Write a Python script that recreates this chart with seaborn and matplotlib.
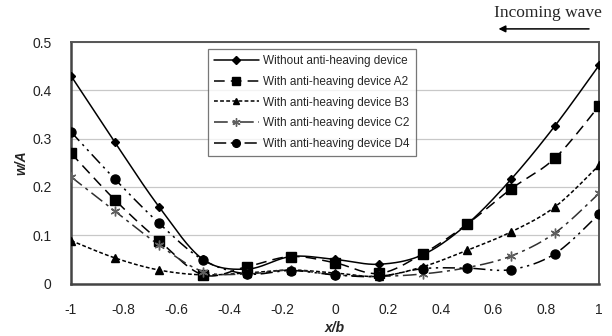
import numpy as np
import pandas as pd
import matplotlib
matplotlib.use('Agg')
import matplotlib.pyplot as plt
from matplotlib.lines import Line2D
import seaborn as sns

# 데이터: 측정 위치 x/b 와 각 조건의 w/A
x_pos = [-1, -5/6, -2/3, -1/2, -1/3, -1/6, 0, 1/6, 1/3, 1/2, 2/3, 5/6, 1]
without = [0.430, 0.292, 0.159, 0.050, 0.030, 0.056, 0.050, 0.040, 0.060, 0.123, 0.216, 0.327, 0.452]
dev_a2 = [0.270, 0.173, 0.089, 0.018, 0.035, 0.056, 0.043, 0.021, 0.062, 0.123, 0.196, 0.260, 0.368]
dev_b3 = [0.089, 0.053, 0.028, 0.018, 0.022, 0.028, 0.022, 0.015, 0.035, 0.069, 0.107, 0.159, 0.245]
dev_c2 = [0.221, 0.150, 0.080, 0.025, 0.020, 0.028, 0.018, 0.015, 0.020, 0.033, 0.057, 0.105, 0.187]
dev_d4 = [0.314, 0.216, 0.125, 0.049, 0.020, 0.027, 0.018, 0.015, 0.031, 0.032, 0.029, 0.062, 0.144]

labels = ['Without anti-heaving device', 'With anti-heaving device A2',
          'With anti-heaving device B3', 'With anti-heaving device C2',
          'With anti-heaving device D4']
x_ticks = [-1, -0.8, -0.6, -0.4, -0.2, 0, 0.2, 0.4, 0.6, 0.8, 1]
y_ticks = [0, 0.1, 0.2, 0.3, 0.4, 0.5]

series = [without, dev_a2, dev_b3, dev_c2, dev_d4]
styles = [
    dict(ls='-', marker='D', ms=4.5, color='black', mcolor='black'),
    dict(ls=(0, (7, 4)), marker='s', ms=6.5, color='black', mcolor='black'),
    dict(ls=(0, (2.5, 1.5)), marker='^', ms=5.5, color='black', mcolor='black'),
    dict(ls=(0, (9, 3, 2, 3)), marker=(6, 2, 0), ms=7, color='#303030', mcolor='#606060'),
    dict(ls=(0, (8, 3, 1.5, 3, 1.5, 3)), marker='o', ms=6.5, color='black', mcolor='black'),
]


def smooth(xs, ys, n=30):
    # 엑셀식 부드러운 선 (Catmull-Rom 베지어)
    p = np.column_stack([xs, ys]).astype(float)
    p = np.vstack([p[0], p, p[-1]])
    t = np.linspace(0, 1, n)[:, None]
    out = []
    for i in range(1, len(p) - 2):
        p0, p3 = p[i], p[i + 1]
        c1 = p0 + (p[i + 1] - p[i - 1]) / 6
        c2 = p3 - (p[i + 2] - p[i]) / 6
        seg = ((1 - t) ** 3) * p0 + 3 * ((1 - t) ** 2) * t * c1 + 3 * (1 - t) * t ** 2 * c2 + t ** 3 * p3
        out.append(seg if i == 1 else seg[1:])
    out = np.vstack(out)
    return out[:, 0], out[:, 1]


sns.set_style('white')
plt.rcParams['font.family'] = ['Liberation Sans', 'DejaVu Sans']
plt.rcParams['axes.unicode_minus'] = False

fig = plt.figure(figsize=(6.12, 3.36), dpi=100)
ax = fig.add_axes([0.116, 0.156, 0.863, 0.719])

handles = []
for ys, st, lab in zip(series, styles, labels):
    cx, cy = smooth(x_pos, ys)
    sns.lineplot(x=cx, y=cy, ax=ax, color=st['color'], linestyle=st['ls'],
                 linewidth=1.1, estimator=None, sort=False)
    ax.plot(x_pos, ys, linestyle='none', marker=st['marker'], ms=st['ms'],
            color=st['mcolor'], markeredgewidth=1.0, zorder=3)
    handles.append(Line2D([], [], color=st['color'], linestyle=st['ls'], linewidth=1.1,
                          marker=st['marker'], ms=st['ms'] * 0.85, markerfacecolor=st['mcolor'],
                          markeredgecolor=st['mcolor']))

ax.set_xlim(-1, 1)
ax.set_ylim(0, 0.5)
ax.set_xticks(x_ticks)
ax.set_xticklabels([f"{v:g}" for v in x_ticks], fontsize=10, color='#222222')
ax.set_yticks(y_ticks)
ax.set_yticklabels([f"{v:g}" for v in y_ticks], fontsize=10, color='#222222')
ax.tick_params(axis='x', length=5, width=1, color='#555555', direction='out', pad=9)
ax.tick_params(axis='y', length=0, pad=14)
ax.yaxis.grid(True, color='#c8c8c8', linewidth=0.9)
ax.set_axisbelow(True)
for s in ['left', 'bottom']:
    ax.spines[s].set_color('#444444')
    ax.spines[s].set_linewidth(1.8)
for s in ['top', 'right']:
    ax.spines[s].set_color('#555555')
    ax.spines[s].set_linewidth(1.4)

ax.set_xlabel('x/b', fontsize=10, fontweight='bold', fontstyle='italic', labelpad=3)
ax.set_ylabel('w/A', fontsize=10, fontweight='bold', fontstyle='italic', labelpad=3)

leg = ax.legend(handles, labels, loc='upper left', bbox_to_anchor=(0.259, 0.971),
                fontsize=8.5, frameon=True, fancybox=False, handlelength=3.8,
                handletextpad=0.4, labelspacing=0.75, borderpad=0.5, borderaxespad=0)
leg.get_frame().set_edgecolor('#555555')
leg.get_frame().set_linewidth(0.9)

fig.text(0.984, 0.961, 'Incoming wave', ha='right', va='center', fontsize=12.5,
         family=['Liberation Serif', 'DejaVu Serif'])
fig.add_artist(matplotlib.patches.FancyArrowPatch((0.967, 0.914), (0.81, 0.914),
               transform=fig.transFigure, arrowstyle='-|>', mutation_scale=10,
               color='black', linewidth=1.1))

fig.savefig('out.png', dpi=100)
